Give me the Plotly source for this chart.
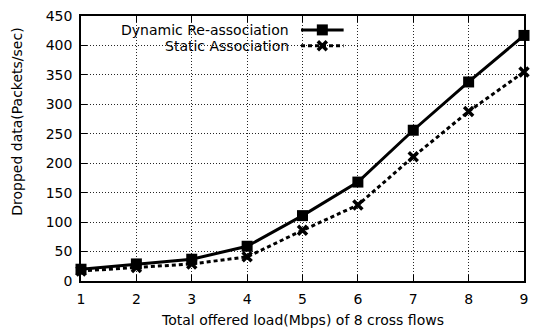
import plotly.graph_objects as go

# Offered load (Mbps) and dropped packets per second
load = [1, 2, 3, 4, 5, 6, 7, 8, 9]
dynamic_reassoc = [20, 29, 37, 59, 111, 168, 256, 338, 417]
static_assoc = [17, 23, 29, 41, 86, 129, 211, 288, 355]

series_names = ["Dynamic Re-association", "Static Association"]
x_ticks = [1, 2, 3, 4, 5, 6, 7, 8, 9]
y_ticks = [0, 50, 100, 150, 200, 250, 300, 350, 400, 450]

FONT = "DejaVu Sans"
FS = 14
W, H = 536, 334
ML, MR, MT, MB = 81, 8, 14, 53
PW, PH = W - ML - MR, H - MT - MB


def px_to_paper(px, py):
    return (px - ML) / PW, (H - MB - py) / PH


solid_style = dict(
    line=dict(color="black", width=3),
    marker=dict(symbol="square", size=11, color="black"))
dashed_style = dict(
    line=dict(color="black", width=3, dash="4px,3px"),
    marker=dict(symbol="x-thin", size=9, color="black",
                line=dict(color="black", width=3.5)))

fig = go.Figure()

fig.add_trace(go.Scatter(
    x=load, y=dynamic_reassoc, mode="lines+markers", name=series_names[0],
    cliponaxis=False, showlegend=False, **solid_style))

fig.add_trace(go.Scatter(
    x=load, y=static_assoc, mode="lines+markers", name=series_names[1],
    cliponaxis=False, showlegend=False, **dashed_style))

# Key: white box with right-aligned labels and line samples
bx0, by0 = px_to_paper(82, 52)
bx1, by1 = px_to_paper(354, 15)
fig.add_shape(type="rect", xref="paper", yref="paper", x0=bx0, x1=bx1,
              y0=by0, y1=by1, fillcolor="white", line=dict(width=0),
              layer="between")

rows = [28, 44]
sx0, _ = px_to_paper(303, 0)
sx1, _ = px_to_paper(346, 0)
sxm = (sx0 + sx1) / 2
tx, _ = px_to_paper(293, 0)
for name, row, st in zip(series_names, rows, [solid_style, dashed_style]):
    _, ry = px_to_paper(0, row)
    fig.add_annotation(x=tx, y=ry, xref="paper", yref="paper", text=name,
                       showarrow=False, xanchor="right", yanchor="middle",
                       font=dict(family=FONT, size=FS, color="black"))
    fig.add_trace(go.Scatter(x=[sx0, sx1], y=[ry, ry], mode="lines",
                             xaxis="x2", yaxis="y2", showlegend=False,
                             hoverinfo="skip", line=st["line"]))
    fig.add_trace(go.Scatter(x=[sxm], y=[ry], mode="markers",
                             xaxis="x2", yaxis="y2", showlegend=False,
                             hoverinfo="skip", marker=st["marker"]))

# Axis titles
fig.add_annotation(x=0.5, y=px_to_paper(0, 320)[1], xref="paper", yref="paper",
                   text="Total offered load(Mbps) of 8 cross flows",
                   showarrow=False, xanchor="center", yanchor="middle",
                   font=dict(family=FONT, size=FS, color="black"))
fig.add_annotation(x=px_to_paper(17, 0)[0], y=px_to_paper(0, 121)[1],
                   xref="paper", yref="paper",
                   text="Dropped data(Packets/sec)", textangle=-90,
                   showarrow=False, xanchor="center", yanchor="middle",
                   font=dict(family=FONT, size=FS, color="black"))

axis_common = dict(
    showline=True, linecolor="black", linewidth=1.5, mirror="ticks",
    ticks="inside", ticklen=6, tickwidth=1, tickcolor="black",
    showgrid=True, gridcolor="rgba(0,0,0,0.85)", gridwidth=1,
    griddash="1px,2px",
    zeroline=False, tickfont=dict(family=FONT, size=FS, color="black"),
)

fig.update_layout(
    width=W, height=H,
    margin=dict(l=ML, r=MR, t=MT, b=MB),
    paper_bgcolor="white", plot_bgcolor="white",
    showlegend=False,
    xaxis=dict(range=[1, 9], tickvals=x_ticks, ticklabelstandoff=4,
               **axis_common),
    yaxis=dict(range=[0, 450], tickvals=y_ticks, ticklabelstandoff=4,
               **axis_common),
    xaxis2=dict(overlaying="x", range=[0, 1], visible=False, fixedrange=True),
    yaxis2=dict(overlaying="y", range=[0, 1], visible=False, fixedrange=True),
)

fig.write_html("out.html")
